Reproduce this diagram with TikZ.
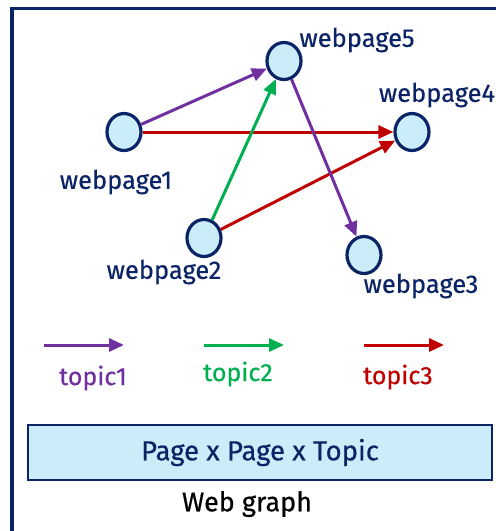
\documentclass[tikz,border=0pt]{standalone}
\usepackage{fontspec}
\setmainfont{Fira Sans}[FakeBold=0.5]
\usetikzlibrary{arrows.meta,shapes.geometric}
\definecolor{navy}{HTML}{0B2466}
\definecolor{pagefill}{HTML}{CBECF9}
\definecolor{tpurple}{HTML}{7030A0}
\definecolor{tgreen}{HTML}{00B050}
\definecolor{tred}{HTML}{C00000}
\tikzset{
  page/.style={ellipse,draw=navy,fill=pagefill,line width=3.2pt,
    minimum width=34pt,minimum height=37pt,inner sep=0pt},
  pagelabel/.style={text=navy,font=\fontsize{25.5}{27}\selectfont,inner sep=0pt},
  link/.style={line width=3pt,-{Triangle[length=15pt,width=13pt]}},
  topiclabel/.style={font=\fontsize{25}{27}\selectfont,inner sep=0pt}
}
\begin{document}
\begin{tikzpicture}[x=1pt,y=-1pt]
\useasboundingbox (0,0) rectangle (496,531);
% frame
\draw[navy,line width=3.5pt] (12,531) -- (12,8.5) -- (496,8.5);
% pages
\node[page] (w1) at (124,132) {};
\node[page] (w2) at (204,238) {};
\node[page] (w3) at (364,255) {};
\node[page] (w4) at (412,132) {};
\node[page] (w5) at (284,61) {};
\node[pagelabel] (t1) at (116,182) {webpage1};
\node[pagelabel] (t2) at (164,272) {webpage2};
\node[pagelabel] (t3) at (421,286) {webpage3};
\node[pagelabel] (t4) at (437,95) {webpage4};
\node[pagelabel] (t5) at (357,40) {webpage5};
% links
\draw[link,tpurple] (w1) -- (w5);
\draw[link,tred] (w1) -- (w4);
\draw[link,tgreen] (w2) -- (w5);
\draw[link,tred] (w2) -- (w4);
\draw[link,tpurple] (w5) -- (w3);
% legend
\coordinate (a1) at (44,345); \coordinate (b1) at (124,345);
\coordinate (a2) at (204,345); \coordinate (b2) at (284,345);
\coordinate (a3) at (364,345); \coordinate (b3) at (444,345);
\draw[link,tpurple] (a1) -- (b1);
\draw[link,tgreen] (a2) -- (b2);
\draw[link,tred] (a3) -- (b3);
\node[topiclabel,text=tpurple] (k1) at (93,378) {topic1};
\node[topiclabel,text=tgreen] (k2) at (238,374) {topic2};
\node[topiclabel,text=tred] (k3) at (398,377) {topic3};
% tensor box and caption
\node[draw=navy,fill=pagefill,line width=2pt,minimum width=464pt,minimum height=55pt,
  text=navy,font=\fontsize{27.5}{29}\selectfont] (box) at (260,452.5) {Page x Page x Topic};
\node[font=\fontsize{27}{29}\selectfont,inner sep=0pt] (cap) at (247,504) {Web graph};
\end{tikzpicture}
\end{document}
